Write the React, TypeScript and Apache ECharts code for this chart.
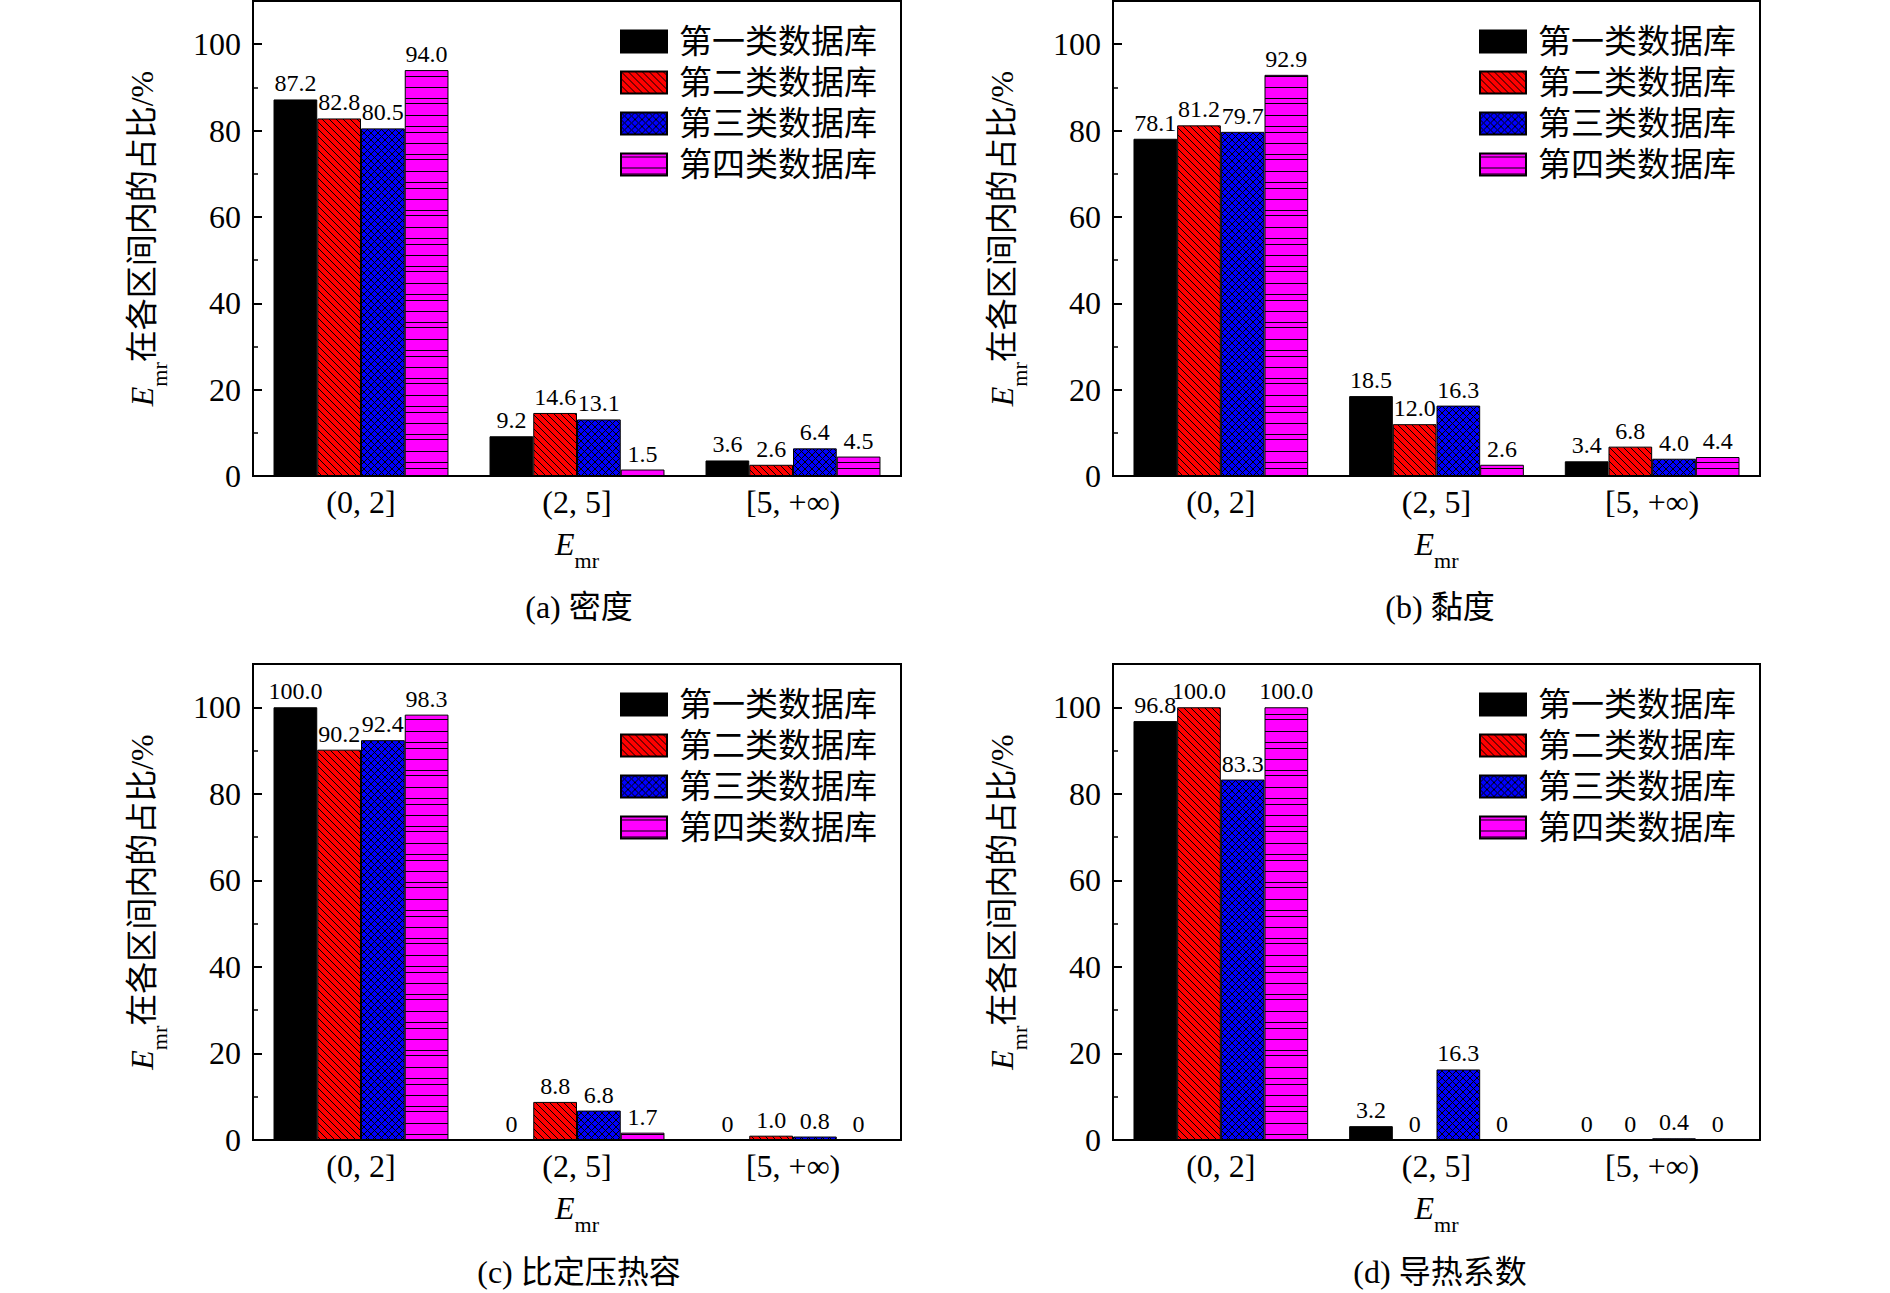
import React, { useEffect, useRef } from 'react';
import * as echarts from 'echarts';

const categories = ['(0, 2]', '(2, 5]', '[5, +∞)'];
const seriesNames = ['第一类数据库', '第二类数据库', '第三类数据库', '第四类数据库'];
const panelTitles = ['(a) 密度', '(b) 黏度', '(c) 比定压热容', '(d) 导热系数'];

// values per database (rows) for each interval (columns)
const densityValues = [
  [87.2, 9.2, 3.6],
  [82.8, 14.6, 2.6],
  [80.5, 13.1, 6.4],
  [94.0, 1.5, 4.5],
];
const viscosityValues = [
  [78.1, 18.5, 3.4],
  [81.2, 12.0, 6.8],
  [79.7, 16.3, 4.0],
  [92.9, 2.6, 4.4],
];
const heatCapacityValues = [
  [100.0, 0, 0],
  [90.2, 8.8, 1.0],
  [92.4, 6.8, 0.8],
  [98.3, 1.7, 0],
];
const conductivityValues = [
  [96.8, 3.2, 0],
  [100.0, 0, 0],
  [83.3, 16.3, 0.4],
  [100.0, 0, 0],
];
const panelValues = [densityValues, viscosityValues, heatCapacityValues, conductivityValues];

const FONT = "'Liberation Serif', 'Times New Roman', 'Noto Sans CJK SC', serif";

const gridBoxes = [
  { left: 253, top: 1, width: 648, height: 475 },
  { left: 1113, top: 1, width: 647, height: 475 },
  { left: 253, top: 664, width: 648, height: 476 },
  { left: 1113, top: 664, width: 647, height: 476 },
];
const legendPos = [
  { left: 615, top: 20 },
  { left: 1474, top: 20 },
  { left: 615, top: 683 },
  { left: 1474, top: 683 },
];
const titlePos = [
  { x: 579, y: 607 },
  { x: 1440, y: 607 },
  { x: 579, y: 1272 },
  { x: 1440, y: 1272 },
];

function makeCanvas(w: number, h: number, draw: (ctx: CanvasRenderingContext2D) => void) {
  const c = document.createElement('canvas');
  c.width = w;
  c.height = h;
  const ctx = c.getContext('2d') as CanvasRenderingContext2D;
  draw(ctx);
  return c;
}

function makeFills() {
  const t = 7;
  const red = makeCanvas(t, t, (ctx) => {
    ctx.fillStyle = '#ff0000';
    ctx.fillRect(0, 0, t, t);
    ctx.strokeStyle = '#000';
    ctx.lineWidth = 1;
    for (const k of [-t, 0, t]) {
      ctx.beginPath();
      ctx.moveTo(-1, -1 + k);
      ctx.lineTo(t + 1, t + 1 + k);
      ctx.stroke();
    }
  });
  const blue = makeCanvas(t, t, (ctx) => {
    ctx.fillStyle = '#0000ff';
    ctx.fillRect(0, 0, t, t);
    ctx.strokeStyle = '#000';
    ctx.lineWidth = 1;
    for (const k of [-t, 0, t]) {
      ctx.beginPath();
      ctx.moveTo(-1, -1 + k);
      ctx.lineTo(t + 1, t + 1 + k);
      ctx.stroke();
      ctx.beginPath();
      ctx.moveTo(-1, t + 1 + k);
      ctx.lineTo(t + 1, -1 + k);
      ctx.stroke();
    }
  });
  const mh = 56;
  const magenta = makeCanvas(4, mh, (ctx) => {
    ctx.fillStyle = '#ff00ff';
    ctx.fillRect(0, 0, 4, mh);
    ctx.fillStyle = '#000';
    for (const y of [3, 14, 20, 31, 42, 47]) ctx.fillRect(0, y, 4, 1);
  });
  return [
    '#000000',
    { image: red, repeat: 'repeat', imageWidth: t, imageHeight: t },
    { image: blue, repeat: 'repeat', imageWidth: t, imageHeight: t },
    { image: magenta, repeat: 'repeat', imageWidth: 4, imageHeight: mh },
  ];
}

const richName = {
  i: { fontStyle: 'italic', fontSize: 32, fontFamily: FONT, lineHeight: 44, verticalAlign: 'top', color: '#000' },
  s: { fontSize: 22, fontFamily: FONT, lineHeight: 34, verticalAlign: 'bottom', color: '#000' },
  n: { fontSize: 32, fontFamily: FONT, lineHeight: 44, verticalAlign: 'top', color: '#000' },
};

export default function App() {
  const ref = useRef<HTMLDivElement>(null);
  useEffect(() => {
    if (!ref.current) return;
    const chart = echarts.init(ref.current, undefined, { renderer: 'svg' });
    const fills = makeFills();

    const xAxis: any[] = [];
    const yAxis: any[] = [];
    const series: any[] = [];
    const legend: any[] = [];
    const grid: any[] = [];
    const graphic: any[] = [];

    for (let i = 0; i < 4; i++) {
      grid.push({ ...gridBoxes[i], show: true, borderColor: '#000', borderWidth: 2, backgroundColor: 'transparent' });
      xAxis.push({
        type: 'category',
        gridIndex: i,
        data: categories,
        axisLine: { lineStyle: { color: '#000', width: 2 } },
        axisTick: { show: false },
        axisLabel: { color: '#000', fontSize: 32, fontFamily: FONT, margin: 10 },
        name: '{i|E}{s|mr}',
        nameLocation: 'middle',
        nameGap: 52,
        nameTextStyle: { rich: richName },
      });
      yAxis.push({
        type: 'value',
        gridIndex: i,
        position: 'left',
        min: 0,
        max: 110,
        interval: 20,
        axisLine: { show: true, lineStyle: { color: '#000', width: 2 } },
        axisTick: { show: true, inside: true, length: 9, lineStyle: { color: '#000', width: 2 } },
        axisLabel: {
          color: '#000',
          fontSize: 32,
          fontFamily: FONT,
          margin: 12,
          formatter: (v: number) => (v > 100 ? '' : String(v)),
        },
        splitLine: { show: false },
        name: '{i|E}{s|mr}{n|在各区间内的占比/%}',
        nameLocation: 'middle',
        nameGap: 83,
        nameTextStyle: { rich: richName },
      });
      yAxis.push({
        type: 'value',
        gridIndex: i,
        position: 'left',
        offset: 0,
        min: 0,
        max: 110,
        interval: 10,
        axisLine: { show: false },
        axisTick: { show: true, inside: true, length: 5, lineStyle: { color: '#000', width: 1.5 } },
        axisLabel: { show: false },
        splitLine: { show: false },
      });
      for (let s = 0; s < 4; s++) {
        series.push({
          type: 'bar',
          name: seriesNames[s],
          xAxisIndex: i,
          yAxisIndex: 2 * i,
          data: panelValues[i][s],
          barGap: '0%',
          barCategoryGap: '19%',
          itemStyle: { color: fills[s], borderColor: '#000', borderWidth: 1 },
          label: {
            show: true,
            position: 'top',
            distance: 4,
            color: '#000',
            fontSize: 24,
            fontFamily: FONT,
            formatter: (p: any) => (p.value === 0 ? '0' : Number(p.value).toFixed(1)),
          },
        });
      }
      legend.push({
        data: seriesNames,
        orient: 'vertical',
        left: legendPos[i].left,
        top: legendPos[i].top,
        itemWidth: 46,
        itemHeight: 22,
        itemGap: 8,
        icon: 'rect',
        selectedMode: false,
        textStyle: { color: '#000', fontSize: 33, fontFamily: FONT, padding: [0, 0, 0, 7] },
      });
      graphic.push({
        type: 'text',
        x: titlePos[i].x,
        y: titlePos[i].y,
        style: {
          text: panelTitles[i],
          fill: '#000',
          font: `32px ${FONT}`,
          textAlign: 'center',
          textVerticalAlign: 'middle',
        },
      });
    }

    chart.setOption({
      animation: false,
      backgroundColor: '#ffffff',
      textStyle: { fontFamily: FONT },
      grid,
      xAxis,
      yAxis,
      series,
      legend,
      graphic,
    });
    return () => chart.dispose();
  }, []);

  return (
    <div
      ref={ref}
      style={{ position: 'fixed', left: 0, top: 0, width: 1890, height: 1293, background: '#fff' }}
    />
  );
}
